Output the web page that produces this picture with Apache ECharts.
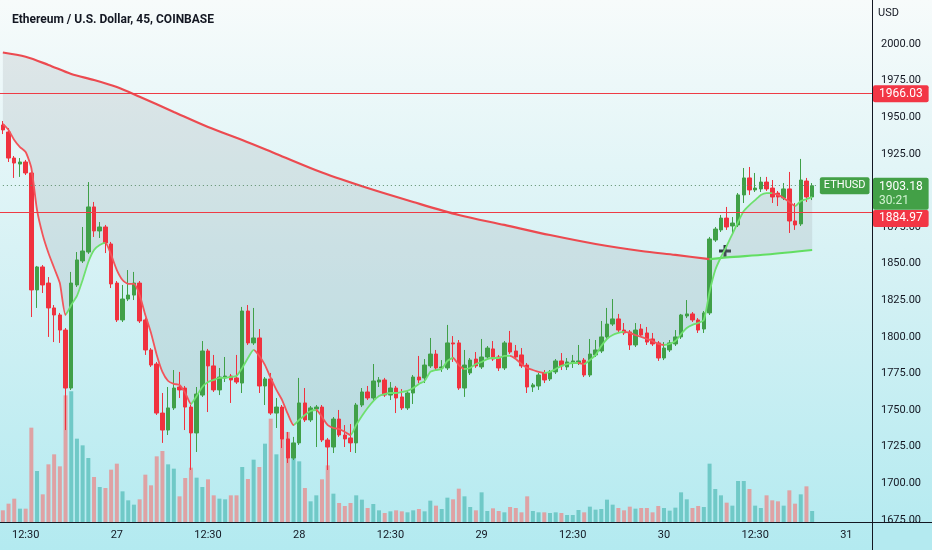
<!DOCTYPE html>
<html>
<head>
<meta charset="utf-8">
<script src="https://cdn.jsdelivr.net/npm/echarts@6/dist/echarts.min.js"></script>
<style>html,body{margin:0;padding:0;background:#fff;}#c{width:932px;height:550px;}</style>
</head>
<body>
<div id="c"></div>
<script>
// ---- data ----
const barCount = 153; // 45-minute slots on the time axis (143 candles + empty space to the right)
const categories = [];
for (let i = 0; i < barCount; i++) categories.push(String(i));
const tickIndex = [4, 20, 36, 52, 68, 84, 100, 116, 132, 148];
const tickLabels = ['12:30', '27', '12:30', '28', '12:30', '29', '12:30', '30', '12:30', '31'];
const priceTicks = [1675, 1700, 1725, 1750, 1775, 1800, 1825, 1850, 1875, 1900, 1925, 1950, 1975, 2000];

// [open, close, low, high]
const candles = [
[1944.7,1941.3,1938.5,1947.4],[1939.9,1922.1,1919.4,1942.6],[1922.1,1918.7,1908.5,1923.5],[1918.0,1919.4,1909.2,1922.1],
[1919.4,1911.9,1910.5,1920.8],[1911.9,1832.0,1813.5,1913.3],[1832.0,1847.7,1819.7,1848.4],[1847.7,1835.4,1829.9,1849.0],
[1836.7,1819.7,1799.9,1840.8],[1819.7,1814.9,1796.4,1821.7],[1814.9,1804.6,1795.8,1816.3],[1804.6,1765.0,1736.3,1806.0],
[1765.0,1836.7,1763.7,1844.3],[1835.4,1852.5,1834.0,1857.9],[1851.8,1858.6,1850.4,1875.0],[1857.9,1888.7,1856.6,1905.7],
[1888.7,1872.3,1868.2,1892.1],[1872.3,1875.0,1867.5,1878.4],[1875.0,1864.1,1857.2,1876.4],[1863.4,1836.1,1833.3,1864.8],
[1836.7,1811.5,1810.1,1838.1],[1811.5,1825.8,1810.1,1835.4],[1825.8,1828.5,1824.4,1845.6],[1828.5,1836.7,1825.1,1844.3],
[1836.7,1810.8,1809.4,1838.1],[1811.5,1791.0,1787.6,1812.8],[1791.0,1780.7,1779.4,1792.3],[1781.4,1747.9,1746.6,1782.8],
[1747.9,1736.3,1727.5,1761.6],[1736.3,1751.4,1732.9,1765.7],[1751.4,1765.0,1750.0,1777.3],[1765.7,1763.7,1758.2,1776.0],
[1765.0,1752.0,1736.3,1766.4],[1752.0,1734.3,1709.0,1753.4],[1734.3,1760.9,1721.3,1765.7],[1760.2,1790.3,1758.9,1797.1],
[1790.3,1780.1,1748.6,1791.7],[1780.1,1763.7,1762.3,1787.6],[1763.7,1772.5,1760.2,1778.7],[1771.9,1773.2,1769.1,1786.2],
[1773.2,1770.5,1754.8,1774.6],[1771.9,1769.1,1767.8,1787.6],[1768.4,1817.6,1761.6,1820.4],[1817.6,1795.8,1794.4,1821.7],
[1795.8,1799.2,1794.4,1819.7],[1799.2,1766.4,1761.6,1805.3],[1766.4,1771.2,1753.4,1772.5],[1771.2,1747.9,1746.6,1775.3],
[1747.9,1752.0,1737.7,1758.2],[1752.0,1730.2,1724.0,1753.4],[1730.2,1717.2,1713.8,1735.0],[1717.2,1727.5,1715.8,1731.6],
[1727.5,1754.8,1726.1,1771.9],[1754.8,1743.2,1741.8,1765.0],[1743.2,1751.4,1741.8,1752.7],[1750.7,1752.0,1724.7,1753.4],
[1752.0,1729.5,1728.1,1753.4],[1729.5,1724.7,1709.0,1730.9],[1724.7,1743.8,1720.6,1745.2],[1743.8,1732.9,1731.6,1750.0],
[1732.9,1730.2,1724.7,1739.7],[1730.9,1727.5,1721.3,1740.4],[1727.5,1753.4,1720.6,1754.8],[1753.4,1762.3,1752.0,1765.0],
[1762.3,1758.2,1756.8,1766.4],[1758.2,1769.8,1756.8,1781.4],[1769.1,1770.5,1765.7,1772.5],[1770.5,1760.2,1758.9,1771.9],
[1760.2,1765.0,1756.8,1769.1],[1765.0,1758.2,1747.9,1766.4],[1758.9,1751.4,1750.0,1764.3],[1751.4,1761.6,1750.0,1763.0],
[1761.6,1772.5,1754.1,1773.9],[1772.5,1770.5,1768.4,1786.9],[1771.9,1780.7,1768.4,1784.8],[1780.1,1788.2,1778.7,1799.2],
[1788.2,1778.7,1777.3,1791.0],[1778.7,1779.4,1776.0,1784.1],[1778.7,1795.8,1777.3,1808.1],[1795.8,1795.1,1782.8,1800.5],
[1795.8,1765.0,1763.7,1797.8],[1765.0,1780.7,1758.9,1791.0],[1775.3,1784.1,1773.9,1785.5],[1784.8,1780.1,1778.7,1789.6],
[1779.4,1786.2,1778.0,1798.5],[1786.2,1792.3,1784.8,1793.7],[1791.7,1784.8,1783.5,1797.1],[1786.2,1778.7,1776.6,1787.6],
[1778.7,1795.8,1777.3,1797.1],[1795.8,1789.6,1788.2,1804.0],[1790.3,1786.2,1784.8,1794.4],[1787.6,1780.1,1778.7,1792.3],
[1780.7,1765.7,1761.6,1782.1],[1765.7,1767.1,1762.3,1768.4],[1766.4,1773.9,1763.7,1775.3],[1775.3,1770.5,1768.4,1777.3],
[1771.2,1776.0,1769.8,1777.3],[1776.0,1783.5,1774.6,1784.8],[1783.5,1780.1,1777.3,1788.9],[1779.4,1782.8,1777.3,1785.5],
[1782.1,1783.5,1778.7,1787.6],[1782.1,1783.5,1780.7,1794.4],[1784.1,1773.9,1772.5,1785.5],[1773.9,1788.2,1772.5,1798.5],
[1787.6,1791.0,1786.2,1797.8],[1790.3,1799.9,1788.9,1810.8],[1799.9,1808.7,1798.5,1819.7],[1808.7,1812.2,1807.4,1825.8],
[1812.2,1804.6,1803.3,1815.6],[1804.6,1802.6,1801.2,1809.4],[1803.3,1794.4,1791.0,1804.6],[1794.4,1804.6,1793.0,1809.4],
[1805.3,1801.2,1799.9,1808.7],[1802.6,1796.4,1794.4,1806.7],[1798.5,1795.1,1793.7,1802.6],[1795.8,1785.5,1783.5,1797.1],
[1785.5,1792.3,1784.1,1796.4],[1791.0,1795.8,1789.6,1797.8],[1795.1,1799.9,1793.7,1804.6],[1799.9,1814.9,1798.5,1815.6],
[1814.2,1815.6,1812.8,1825.1],[1815.6,1811.5,1810.1,1816.9],[1811.5,1804.6,1802.6,1812.8],[1805.3,1816.3,1802.6,1817.6],
[1816.3,1866.8,1814.9,1868.2],[1866.1,1873.6,1864.8,1875.0],[1873.0,1881.1,1871.6,1883.2],[1881.1,1875.0,1873.0,1888.7],
[1875.7,1877.7,1870.9,1881.8],[1876.4,1896.9,1875.0,1898.2],[1896.9,1908.5,1891.4,1915.3],[1908.5,1900.3,1896.9,1916.0],
[1900.3,1901.6,1898.9,1911.9],[1901.0,1905.7,1898.9,1909.2],[1905.7,1901.0,1899.6,1909.2],[1901.6,1895.5,1891.4,1907.1],
[1898.2,1895.5,1889.3,1899.6],[1894.8,1901.0,1893.4,1905.0],[1901.0,1879.1,1870.9,1912.6],[1879.1,1876.4,1873.0,1891.4],
[1877.1,1907.1,1875.7,1921.5],[1906.4,1895.5,1892.1,1908.5],[1895.5,1903.18,1893.4,1905.0]
];

const volume = [
35,55,70,40,40,283,153,83,173,203,
167,380,392,250,230,192,135,105,102,157,
175,92,65,52,68,142,110,197,213,173,
160,77,132,163,133,105,128,80,70,68,
80,80,165,129,187,165,235,310,203,273,
270,193,182,102,62,80,128,170,85,57,
48,57,80,67,42,54,35,27,32,35,
32,29,35,39,32,64,49,39,73,68,
100,77,45,35,89,33,41,33,29,45,
42,29,77,33,29,29,27,29,27,21,
21,36,29,46,37,39,67,52,42,35,
46,40,42,42,29,48,42,34,43,89,
68,42,48,45,175,99,80,58,49,123,
123,99,49,42,80,65,62,49,95,55,
83,107,33
];

const shortMA = [
1945.4,1941.3,1934.4,1929.6,1926.2,1915.3,1886.6,1869.5,1857.2,1847.0,
1836.7,1814.9,1821.7,1827.9,1838.8,1851.1,1859.3,1862.7,1864.1,1855.9,
1845.6,1838.8,1836.1,1836.1,1828.5,1814.9,1802.6,1787.6,1776.0,1769.8,
1767.8,1767.1,1761.6,1754.1,1759.6,1765.7,1769.1,1770.5,1771.9,1771.9,
1772.5,1773.2,1778.7,1785.5,1791.0,1786.9,1780.7,1771.9,1763.7,1756.8,
1747.3,1739.7,1743.2,1746.6,1749.3,1750.0,1745.2,1739.7,1737.7,1737.0,
1735.0,1732.9,1739.7,1745.9,1751.4,1756.1,1759.6,1760.9,1761.6,1761.6,
1762.3,1763.0,1765.0,1767.8,1769.8,1776.0,1777.3,1778.0,1783.5,1785.5,
1780.7,1778.0,1778.7,1781.4,1782.8,1784.8,1785.5,1785.5,1786.9,1786.9,
1784.8,1781.4,1778.7,1777.3,1776.0,1775.3,1776.0,1778.0,1780.1,1781.4,
1782.1,1782.1,1781.4,1784.1,1787.6,1793.7,1798.5,1801.2,1802.6,1803.3,
1802.6,1801.2,1799.9,1798.5,1797.1,1795.1,1794.4,1795.1,1797.1,1801.9,
1806.0,1808.1,1809.4,1811.5,1830.6,1845.6,1854.5,1862.0,1870.2,1878.4,
1885.9,1890.0,1893.4,1896.9,1898.2,1898.2,1896.9,1894.8,1892.1,1889.3,
1892.8,1894.1,1895.5
];
// index ranges where the short average falls (red) or rises (green)
const shortMASegments = [
[0,11,'down'],[11,18,'up'],[18,33,'down'],[33,44,'up'],[44,51,'down'],[51,55,'up'],[55,61,'down'],
[61,79,'up'],[79,81,'down'],[81,89,'up'],[89,95,'down'],[95,101,'up'],[101,102,'down'],[102,109,'up'],
[109,116,'down'],[116,135,'up'],[135,139,'down'],[139,142,'up']
];

// long moving average, [candle index, price]
const longMADown = [[0,1994.2],[4,1991.3],[8,1985.7],[12,1979.5],[16,1975.4],[20,1970.6],[24,1964.0],[30,1953.6],
[36,1943.3],[42,1934.4],[48,1924.9],[56,1912.2],[64,1901.6],[72,1892.1],[80,1883.2],[88,1876.4],[96,1869.5],
[104,1863.4],[112,1858.6],[118,1855.9],[124,1853.0]];
const longMAUp = [[124,1853.0],[127,1854.2],[134,1856.2],[142,1859.3]];

const resistance = 1966.03;
const support = 1884.97;
const lastPrice = 1903.18;
const countdown = '30:21';
const symbolName = 'ETHUSD';
const lastCandleSlot = '143';

// ---- styling ----
const RED = '#f0323f', GREEN = '#40a048';
const VOL_UP = '#70c9c7', VOL_DOWN = '#dea2a4';
const FONT = 'Roboto';
const TXT = '#131722';

const chart = echarts.init(document.getElementById('c'));

const pieces = shortMASegments.map((s, k) => {
  const p = { lte: s[1], color: s[2] === 'up' ? '#6ee06e' : '#f2545a' };
  if (k === 0) p.gte = s[0]; else p.gt = s[0];
  return p;
});

const redBoxLabel = (txt, dy) => ({
  show: true, position: 'end', distance: 1, offset: [0, dy], formatter: txt,
  backgroundColor: '#f23645', color: '#fff', padding: [2, 6, 2, 6], borderRadius: 2,
  fontSize: 12, fontFamily: FONT, lineHeight: 13
});

const option = {
  animation: false,
  backgroundColor: {
    type: 'linear', x: 0, y: 0, x2: 0, y2: 1,
    colorStops: [
      { offset: 0, color: '#f7fbfb' },
      { offset: 0.45, color: '#d8f2f5' },
      { offset: 1, color: '#b3eaf0' }
    ]
  },
  textStyle: { fontFamily: FONT },
  title: {
    text: 'Ethereum / U.S. Dollar, 45, COINBASE',
    left: 7, top: 9,
    textStyle: { fontFamily: FONT, fontSize: 12, fontWeight: 'bold', color: TXT }
  },
  grid: { left: 0, right: 60, top: 0, bottom: 28 },
  xAxis: {
    type: 'category',
    data: categories,
    boundaryGap: true,
    axisLine: { lineStyle: { color: TXT, width: 1 } },
    axisTick: { show: false },
    splitLine: { show: false },
    axisLabel: {
      interval: (i) => tickIndex.indexOf(i) >= 0,
      formatter: (v, i) => tickLabels[tickIndex.indexOf(i)] || '',
      color: TXT, fontSize: 11, fontFamily: FONT, margin: 8
    }
  },
  yAxis: [
    {
      type: 'value', position: 'right',
      min: 1673.48, max: 2030.06,
      splitLine: { show: false },
      axisLine: { show: true, lineStyle: { color: TXT, width: 1 } },
      axisTick: { show: false },
      axisLabel: {
        customValues: priceTicks,
        formatter: (v) => Number(v).toFixed(2),
        color: TXT, fontSize: 11, fontFamily: FONT, margin: 9
      }
    },
    { type: 'value', min: 0, max: 1566, show: false }
  ],
  visualMap: {
    show: false, type: 'piecewise', seriesIndex: 5, dimension: 0, pieces: pieces
  },
  series: [
    {
      type: 'bar', yAxisIndex: 1, data: volume, barWidth: 4, silent: true, z: 1,
      itemStyle: {
        color: (p) => candles[p.dataIndex][1] >= candles[p.dataIndex][0] ? VOL_UP : VOL_DOWN
      }
    },
    {
      type: 'custom', silent: true, z: 2,
      data: [[0, shortMA[0]]],
      renderItem: (params, api) => {
        const pts = [];
        longMADown.concat(longMAUp.slice(1)).forEach((d) => pts.push(api.coord([d[0], d[1]])));
        for (let i = shortMA.length - 1; i >= 0; i--) pts.push(api.coord([i, shortMA[i]]));
        return { type: 'polygon', shape: { points: pts }, style: { fill: 'rgba(150,155,158,0.2)' } };
      }
    },
    {
      type: 'candlestick', data: candles, barWidth: 4, z: 3, clip: false, silent: true,
      itemStyle: { color: GREEN, color0: RED, borderColor: GREEN, borderColor0: RED, borderWidth: 1 },
      markLine: {
        symbol: ['none', 'none'], silent: true, precision: 2,
        data: [
          [
            {
              coord: ['0', lastPrice],
              lineStyle: { color: '#5c8d6a', width: 1, type: [1, 3] },
              label: {
                show: true, position: 'end', distance: 2, formatter: symbolName,
                backgroundColor: '#43a047', color: '#fff', padding: [3, 4, 2, 4], borderRadius: 2,
                fontSize: 11, fontFamily: FONT, lineHeight: 12
              }
            },
            { coord: [lastCandleSlot, lastPrice] }
          ],
          {
            yAxis: lastPrice,
            lineStyle: { color: 'rgba(0,0,0,0)', width: 1 },
            label: {
              show: true, position: 'end', distance: 1, offset: [0, 8],
              formatter: '{a|' + lastPrice.toFixed(2) + '}\n{b|' + countdown + '}',
              backgroundColor: '#43a047', padding: [2, 6, 2, 6], borderRadius: 2,
              rich: {
                a: { color: '#fff', fontSize: 12, fontFamily: FONT, lineHeight: 14 },
                b: { color: '#d2f3d2', fontSize: 12, fontFamily: FONT, lineHeight: 14 }
              }
            }
          },
          {
            yAxis: resistance,
            lineStyle: { color: '#ee3b45', width: 1, type: 'solid' },
            label: redBoxLabel(resistance.toFixed(2), 0)
          },
          {
            yAxis: support,
            lineStyle: { color: '#ee3b45', width: 1, type: 'solid' },
            label: redBoxLabel(support.toFixed(2), 6)
          }
        ]
      }
    },
    {
      type: 'line', data: longMADown, smooth: 0.3, showSymbol: false, silent: true, z: 4,
      lineStyle: { color: '#ec4a50', width: 2.2 }
    },
    {
      type: 'line', data: longMAUp, smooth: 0.3, showSymbol: false, silent: true, z: 4,
      lineStyle: { color: '#62de62', width: 2.2 }
    },
    {
      type: 'line', data: shortMA, smooth: 0.2, showSymbol: false, silent: true, z: 4,
      lineStyle: { width: 1.8 }
    }
  ],
  graphic: [
    { type: 'text', left: 878, top: 8, z: 100, style: { text: 'USD', font: '11px Roboto', fill: TXT } },
    { type: 'rect', z: 100, shape: { x: 873, y: 523, width: 59, height: 27 }, style: { fill: '#b4eaf0' } },
    { type: 'line', z: 101, shape: { x1: 872.5, y1: 522, x2: 872.5, y2: 550 }, style: { stroke: TXT, lineWidth: 1 } },
    { type: 'line', z: 101, shape: { x1: 872, y1: 522.5, x2: 932, y2: 522.5 }, style: { stroke: TXT, lineWidth: 1 } },
    {
      type: 'group', x: 725, y: 251, z: 102,
      children: [
        { type: 'rect', shape: { x: -6, y: -1.5, width: 12, height: 3 }, style: { fill: '#2e3b40' } },
        { type: 'rect', shape: { x: -1.5, y: -6, width: 3, height: 12 }, style: { fill: '#2e3b40' } }
      ]
    }
  ]
};

chart.setOption(option);
</script>
</body>
</html>
